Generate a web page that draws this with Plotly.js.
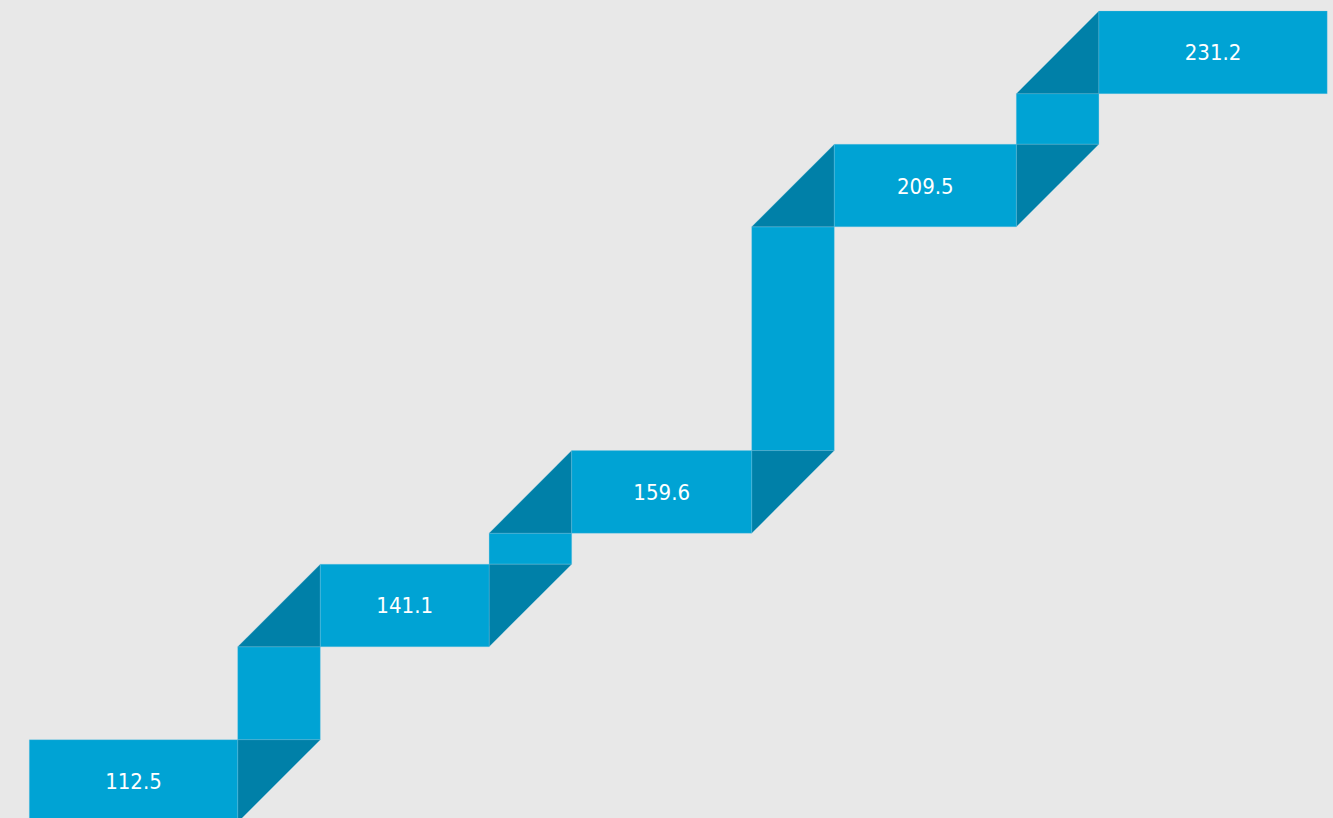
<!DOCTYPE html>
<html>
<head>
<meta charset="utf-8">
<script src="https://cdn.plot.ly/plotly-3.0.1.min.js"></script>
<style>
html,body{margin:0;padding:0;background:#e8e8e8;}
#chart{width:1333px;height:818px;}
</style>
</head>
<body>
<div id="chart"></div>
<script>
// ---- data ----
const values = [112.5, 141.1, 159.6, 209.5, 231.2];
const labels = ["112.5", "141.1", "159.6", "209.5", "231.2"];

// ---- layout parameters (positions / sizes / styles) ----
const W = 1333, H = 818;
const xStart = 29.3;                       // left edge of first ribbon segment (x axis units = px)
const segWidths = [208.4, 168.8, 180, 182, 228.3];
const fold = 82.6;                         // ribbon thickness / fold size in px
const yRange = [99.75, 233.0];
const unitsPerPx = (yRange[1] - yRange[0]) / H;
const h = fold * unitsPerPx;               // ribbon thickness in value units
const labelDrop = 2.5 * unitsPerPx;
const LIGHT = '#00a3d4', DARK = '#0080a8', EDGE = 'rgba(120,200,230,0.45)';

const traces = [];
function poly(xs, ys, color) {
  traces.push({
    type: 'scatter', mode: 'lines', x: xs.concat([xs[0]]), y: ys.concat([ys[0]]),
    fill: 'toself', fillcolor: color, line: {color: EDGE, width: 0.6},
    hoverinfo: 'skip', showlegend: false
  });
}

// compute segment x extents
const lefts = [], rights = [];
let cx = xStart;
values.forEach((v, i) => {
  lefts.push(cx);
  rights.push(cx + segWidths[i]);
  cx += segWidths[i] + fold;
});

// vertical connectors
for (let i = 0; i < values.length - 1; i++) {
  const x0 = rights[i], x1 = rights[i] + fold;
  const y0 = values[i], y1 = values[i + 1] - h;
  if (y1 > y0) poly([x0, x1, x1, x0], [y0, y0, y1, y1], LIGHT);
}
// folded (dark) triangles
for (let i = 0; i < values.length - 1; i++) {
  const x0 = rights[i], x1 = rights[i] + fold;
  poly([x0, x1, x0], [values[i], values[i], values[i] - h], DARK);
  poly([x0, x1, x1], [values[i + 1] - h, values[i + 1], values[i + 1] - h], DARK);
}
// horizontal segments
values.forEach((v, i) => {
  poly([lefts[i], rights[i], rights[i], lefts[i]], [v, v, v - h, v - h], LIGHT);
});
// labels
traces.push({
  type: 'scatter', mode: 'text',
  x: values.map((v, i) => (lefts[i] + rights[i]) / 2),
  y: values.map(v => v - h / 2 - labelDrop),
  text: labels,
  textposition: 'middle center',
  textfont: {family: '"Liberation Sans Narrow", "DejaVu Sans Condensed", "Roboto", sans-serif', size: 22, color: '#ffffff', weight: 500},
  hoverinfo: 'skip', showlegend: false, cliponaxis: false
});

const layout = {
  width: W, height: H,
  margin: {l: 0, r: 0, t: 0, b: 0},
  paper_bgcolor: '#e8e8e8', plot_bgcolor: '#e8e8e8',
  xaxis: {range: [0, W], visible: false, fixedrange: true},
  yaxis: {range: yRange, visible: false, fixedrange: true},
  showlegend: false
};
Plotly.newPlot('chart', traces, layout, {displayModeBar: false, staticPlot: true});
</script>
</body>
</html>
